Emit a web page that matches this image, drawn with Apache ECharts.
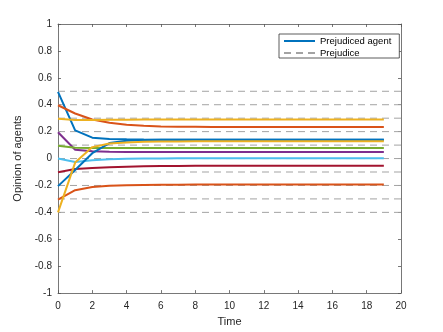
<!DOCTYPE html>
<html>
<head>
<meta charset="utf-8">
<script src="https://cdn.jsdelivr.net/npm/echarts@6/dist/echarts.min.js"></script>
<style>
  html, body { margin: 0; padding: 0; background: #fff; }
  #main { width: 443px; height: 332px; }
</style>
</head>
<body>
<div id="main"></div>
<script>
var time = [0, 1, 2, 3, 4, 5, 6, 7, 8, 9, 10, 11, 12, 13, 14, 15, 16, 17, 18, 19];

// opinion trajectories, one per agent
var agent1 = [0.495, 0.21, 0.155, 0.146, 0.143, 0.141, 0.140, 0.140, 0.140, 0.140, 0.140, 0.140, 0.140, 0.140, 0.140, 0.140, 0.140, 0.140, 0.140, 0.140];
var agent2 = [0.396, 0.335, 0.29, 0.266, 0.252, 0.244, 0.239, 0.237, 0.236, 0.235, 0.234, 0.234, 0.234, 0.234, 0.234, 0.234, 0.234, 0.234, 0.234, 0.234];
var agent3 = [0.295, 0.286, 0.287, 0.288, 0.289, 0.290, 0.290, 0.290, 0.290, 0.290, 0.290, 0.290, 0.290, 0.290, 0.290, 0.290, 0.290, 0.290, 0.290, 0.290];
var agent4 = [0.196, 0.065, 0.055, 0.051, 0.049, 0.048, 0.048, 0.048, 0.048, 0.048, 0.048, 0.048, 0.048, 0.048, 0.048, 0.048, 0.048, 0.048, 0.048, 0.048];
var agent5 = [0.095, 0.080, 0.079, 0.078, 0.078, 0.078, 0.078, 0.078, 0.078, 0.078, 0.078, 0.078, 0.078, 0.078, 0.078, 0.078, 0.078, 0.078, 0.078, 0.078];
var agent6 = [0.0, -0.025, -0.012, -0.006, -0.002, 0.0, 0.001, 0.002, 0.002, 0.002, 0.002, 0.002, 0.002, 0.002, 0.002, 0.002, 0.002, 0.002, 0.002, 0.002];
var agent7 = [-0.102, -0.078, -0.07, -0.065, -0.061, -0.058, -0.056, -0.055, -0.054, -0.053, -0.053, -0.053, -0.053, -0.053, -0.053, -0.053, -0.053, -0.053, -0.053, -0.053];
var agent8 = [-0.205, -0.085, 0.04, 0.115, 0.133, 0.138, 0.140, 0.140, 0.140, 0.140, 0.140, 0.140, 0.140, 0.140, 0.140, 0.140, 0.140, 0.140, 0.140, 0.140];
var agent9 = [-0.305, -0.235, -0.212, -0.203, -0.198, -0.196, -0.195, -0.194, -0.193, -0.193, -0.193, -0.193, -0.193, -0.193, -0.193, -0.193, -0.193, -0.193, -0.193, -0.193];
var agent10 = [-0.4, -0.03, 0.085, 0.112, 0.12, 0.124, 0.126, 0.127, 0.128, 0.128, 0.128, 0.128, 0.128, 0.128, 0.128, 0.128, 0.128, 0.128, 0.128, 0.128];

var prejudice = [0.5, 0.4, 0.3, 0.2, 0.1, 0, -0.1, -0.2, -0.3, -0.4];

var agents = [agent1, agent2, agent3, agent4, agent5, agent6, agent7, agent8, agent9, agent10];
var colors = ['#0072BD', '#D95319', '#EDB120', '#7E2F8E', '#77AC30', '#4DBEEE', '#A2142F'];

var xMin = 0, xMax = 20;
var font = 'Liberation Sans, Arial, Helvetica, sans-serif';

var myChart = echarts.init(document.getElementById('main'));

var series = [];
agents.forEach(function(a, i){
  series.push({
    name: i === 0 ? 'Prejudiced agent' : 'Agent ' + (i + 1),
    type: 'line',
    symbol: 'none',
    data: a.map(function(v, k){ return [time[k], v]; }),
    lineStyle: { width: 2, color: colors[i % colors.length] },
    itemStyle: { color: colors[i % colors.length] },
    z: 3
  });
});
prejudice.forEach(function(p){
  series.push({
    name: 'Prejudice',
    type: 'line',
    symbol: 'none',
    data: [[xMin, p], [xMax, p]],
    lineStyle: { width: 1, color: '#a3a3a3', type: [7, 5] },
    itemStyle: { color: '#a3a3a3' },
    z: 2
  });
});

var tickStyle = { inside: true, length: 3, lineStyle: { color: '#555', width: 0.8 } };
var lineStyle = { onZero: false, lineStyle: { color: '#555', width: 0.8 } };

var option = {
  animation: false,
  backgroundColor: '#fff',
  grid: { left: 58, right: 42, top: 24, bottom: 38 },
  legend: {
    data: ['Prejudiced agent', 'Prejudice'],
    orient: 'vertical',
    left: 279,
    top: 34,
    itemWidth: 31,
    itemHeight: 8,
    itemGap: 2,
    padding: [2, 8, 0, 4],
    borderColor: '#333',
    borderWidth: 0.8,
    borderRadius: 0,
    backgroundColor: '#fff',
    itemStyle: { opacity: 0 },
    textStyle: { fontFamily: font, fontSize: 9.5, color: '#000' }
  },
  xAxis: [{
    type: 'value',
    min: xMin, max: xMax, interval: 2,
    name: 'Time',
    nameLocation: 'middle',
    nameGap: 21,
    nameTextStyle: { fontFamily: font, fontSize: 11, color: '#262626' },
    axisLine: lineStyle,
    axisTick: tickStyle,
    axisLabel: { fontFamily: font, fontSize: 10, color: '#262626', margin: 8 },
    splitLine: { show: false }
  }, {
    type: 'value',
    position: 'top',
    min: xMin, max: xMax, interval: 2,
    axisLine: lineStyle,
    axisTick: tickStyle,
    axisLabel: { show: false },
    splitLine: { show: false }
  }],
  yAxis: [{
    type: 'value',
    min: -1, max: 1, interval: 0.2,
    name: 'Opinion of agents',
    nameLocation: 'middle',
    nameGap: 25,
    nameTextStyle: { fontFamily: font, fontSize: 11, color: '#262626' },
    axisLine: lineStyle,
    axisTick: tickStyle,
    axisLabel: { fontFamily: font, fontSize: 10, color: '#262626', margin: 6 },
    splitLine: { show: false }
  }, {
    type: 'value',
    position: 'right',
    min: -1, max: 1, interval: 0.2,
    axisLine: lineStyle,
    axisTick: tickStyle,
    axisLabel: { show: false },
    splitLine: { show: false }
  }],
  series: series
};

myChart.setOption(option);
</script>
</body>
</html>
